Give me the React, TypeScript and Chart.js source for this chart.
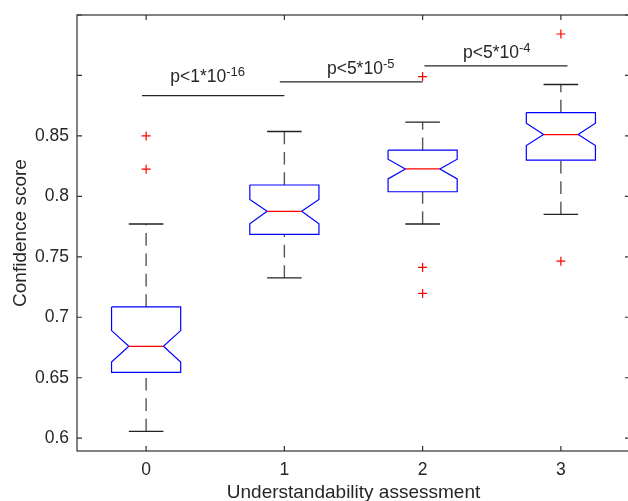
import React, { useEffect, useRef } from 'react';
import { Chart, registerables } from 'chart.js';

Chart.register(...registerables);

// ---- data ----
const categories = [0, 1, 2, 3];
const xTickLabels = ['0', '1', '2', '3'];
const yTickValues = [0.6, 0.65, 0.7, 0.75, 0.8, 0.85, 0.9, 0.95];
const yTickLabels = ['0.6', '0.65', '0.7', '0.75', '0.8', '0.85', '', ''];
const whiskerLow = [0.6056, 0.7326, 0.7771, 0.7851];
const q1 = [0.6544, 0.7685, 0.8038, 0.8299];
const notchLow = [0.663, 0.7773, 0.8144, 0.842];
const median = [0.676, 0.7876, 0.8227, 0.8511];
const notchHigh = [0.689, 0.7975, 0.8307, 0.8605];
const q3 = [0.7086, 0.8094, 0.8382, 0.8693];
const whiskerHigh = [0.7771, 0.8536, 0.8614, 0.8925];
const outliers = [[0.85, 0.8225], [], [0.8991, 0.7412, 0.7197], [0.9343, 0.7464]];
const bracketFrom = [-0.03, 0.967, 2.013];
const bracketTo = [1.0, 2.0, 3.048];
const bracketY = [0.8834, 0.8947, 0.908];
const pLabelBase = ['p<1*10', 'p<5*10', 'p<5*10'];
const pLabelExp = ['-16', '-5', '-4'];
const pLabelX = [0.445, 1.552, 2.536];
const pLabelY = [0.895, 0.9014, 0.9144];

// ---- style ----
const BOX_HALF = 0.25;
const NOTCH_HALF = 0.125;
const CAP_HALF = 0.125;
const FONT = '"Liberation Sans", Arial, Helvetica, sans-serif';
const TEXT_COLOR = '#262626';
const AXIS_COLOR = '#303030';

const lineDs = (data: { x: number; y: number }[], color: string, width: number, dash: number[] = []) => ({
  type: 'scatter' as const,
  data,
  showLine: true,
  borderColor: color,
  backgroundColor: color,
  borderWidth: width,
  borderDash: dash,
  pointRadius: 0,
  pointHoverRadius: 0,
  tension: 0,
  fill: false,
});

const framePlugin = {
  id: 'frame',
  afterDraw(chart: any) {
    const { ctx, chartArea, scales } = chart;
    const { left, right, top, bottom } = chartArea;
    const xs = scales.x;
    const ys = scales.y;
    ctx.save();
    ctx.strokeStyle = AXIS_COLOR;
    ctx.lineWidth = 1.2;
    ctx.strokeRect(left, top, right - left, bottom - top);
    const tl = 5;
    ctx.beginPath();
    xs.ticks.forEach((t: any) => {
      const px = xs.getPixelForValue(t.value);
      ctx.moveTo(px, bottom);
      ctx.lineTo(px, bottom - tl);
      ctx.moveTo(px, top);
      ctx.lineTo(px, top + tl);
    });
    ys.ticks.forEach((t: any) => {
      const py = ys.getPixelForValue(t.value);
      ctx.moveTo(left, py);
      ctx.lineTo(left + tl, py);
      ctx.moveTo(right, py);
      ctx.lineTo(right - tl, py);
    });
    ctx.stroke();
    ctx.restore();
  },
};

const pLabelPlugin = {
  id: 'plabels',
  afterDatasetsDraw(chart: any) {
    const { ctx, scales } = chart;
    const xs = scales.x;
    const ys = scales.y;
    ctx.save();
    ctx.fillStyle = TEXT_COLOR;
    ctx.textBaseline = 'alphabetic';
    ctx.textAlign = 'left';
    pLabelBase.forEach((base, i) => {
      const cx = xs.getPixelForValue(pLabelX[i]);
      const by = ys.getPixelForValue(pLabelY[i]);
      ctx.font = `17.5px ${FONT}`;
      const wb = ctx.measureText(base).width;
      ctx.font = `13px ${FONT}`;
      const we = ctx.measureText(pLabelExp[i]).width;
      const sx = cx - (wb + we) / 2;
      ctx.font = `17.5px ${FONT}`;
      ctx.fillText(base, sx, by);
      ctx.font = `13px ${FONT}`;
      ctx.fillText(pLabelExp[i], sx + wb, by - 6);
    });
    ctx.restore();
  },
};

export default function App() {
  const ref = useRef<HTMLCanvasElement>(null);

  useEffect(() => {
    if (!ref.current) return;
    const datasets: any[] = [];

    // medians (on top)
    categories.forEach((c, i) => {
      datasets.push(lineDs([{ x: c - NOTCH_HALF, y: median[i] }, { x: c + NOTCH_HALF, y: median[i] }], '#ff0000', 1.2));
    });
    // outliers
    const outPts: { x: number; y: number }[] = [];
    categories.forEach((c, i) => outliers[i].forEach((v) => outPts.push({ x: c, y: v })));
    datasets.push({
      type: 'scatter',
      data: outPts,
      showLine: false,
      pointStyle: 'cross',
      pointRadius: 4.5,
      pointHoverRadius: 4.5,
      borderColor: '#ff0000',
      backgroundColor: '#ff0000',
      pointBorderWidth: 1.2,
    });
    // notched boxes
    categories.forEach((c, i) => {
      const pts = [
        { x: c - BOX_HALF, y: q3[i] },
        { x: c + BOX_HALF, y: q3[i] },
        { x: c + BOX_HALF, y: notchHigh[i] },
        { x: c + NOTCH_HALF, y: median[i] },
        { x: c + BOX_HALF, y: notchLow[i] },
        { x: c + BOX_HALF, y: q1[i] },
        { x: c - BOX_HALF, y: q1[i] },
        { x: c - BOX_HALF, y: notchLow[i] },
        { x: c - NOTCH_HALF, y: median[i] },
        { x: c - BOX_HALF, y: notchHigh[i] },
        { x: c - BOX_HALF, y: q3[i] },
      ];
      datasets.push(lineDs(pts, '#0000ff', 1.2));
    });
    // caps
    categories.forEach((c, i) => {
      datasets.push(lineDs([{ x: c - CAP_HALF, y: whiskerHigh[i] }, { x: c + CAP_HALF, y: whiskerHigh[i] }], '#222222', 1.4));
      datasets.push(lineDs([{ x: c - CAP_HALF, y: whiskerLow[i] }, { x: c + CAP_HALF, y: whiskerLow[i] }], '#222222', 1.4));
    });
    // whiskers (dashed, drawn bottom-up)
    categories.forEach((c, i) => {
      datasets.push(lineDs([{ x: c, y: whiskerLow[i] }, { x: c, y: q1[i] }], '#555555', 1.4, [12.7, 7.7]));
      datasets.push(lineDs([{ x: c, y: q3[i] }, { x: c, y: whiskerHigh[i] }], '#555555', 1.4, [12.7, 7.7]));
    });
    // significance brackets
    bracketY.forEach((y, i) => {
      datasets.push(lineDs([{ x: bracketFrom[i], y }, { x: bracketTo[i], y }], '#262626', 1.2));
    });

    const chart = new Chart(ref.current, {
      type: 'scatter',
      data: { datasets },
      options: {
        responsive: false,
        animation: false,
        devicePixelRatio: 1,
        events: [],
        layout: { padding: { left: 0, top: 15, right: 10, bottom: 0 } },
        plugins: {
          legend: { display: false },
          tooltip: { enabled: false },
        },
        scales: {
          x: {
            type: 'linear',
            min: -0.5,
            max: 3.5,
            afterBuildTicks: (s: any) => {
              s.ticks = categories.map((v) => ({ value: v }));
            },
            afterFit: (s: any) => {
              s.height = 59;
              s.paddingLeft = 0;
              s.paddingRight = 0;
            },
            grid: { display: false, drawTicks: false },
            border: { display: false },
            ticks: {
              padding: 9,
              color: TEXT_COLOR,
              font: { family: FONT, size: 17.5 },
              maxRotation: 0,
              autoSkip: false,
              callback: (v: any) => {
                const idx = categories.indexOf(Number(v));
                return idx >= 0 ? xTickLabels[idx] : '';
              },
            },
            title: {
              display: true,
              text: 'Understandability assessment',
              color: TEXT_COLOR,
              font: { family: FONT, size: 19 },
              padding: { top: 0, bottom: 6 },
            },
          },
          y: {
            type: 'linear',
            min: 0.5894,
            max: 0.95,
            afterBuildTicks: (s: any) => {
              s.ticks = yTickValues.map((v) => ({ value: v }));
            },
            afterFit: (s: any) => {
              s.width = 77;
              s.paddingTop = 0;
              s.paddingBottom = 0;
            },
            grid: { display: false, drawTicks: false },
            border: { display: false },
            ticks: {
              padding: 8,
              color: TEXT_COLOR,
              font: { family: FONT, size: 17.5 },
              autoSkip: false,
              callback: (v: any) => {
                const idx = yTickValues.findIndex((t) => Math.abs(t - Number(v)) < 1e-9);
                return idx >= 0 ? yTickLabels[idx] : '';
              },
            },
            title: {
              display: true,
              text: 'Confidence score',
              color: TEXT_COLOR,
              font: { family: FONT, size: 19 },
              padding: { top: 9, bottom: 0 },
            },
          },
        },
      },
      plugins: [framePlugin, pLabelPlugin],
    } as any);
    return () => chart.destroy();
  }, []);

  return (
    <div
      style={{
        position: 'fixed',
        left: 0,
        top: 0,
        width: 628,
        height: 501,
        overflow: 'hidden',
        background: '#ffffff',
      }}
    >
      <canvas ref={ref} width={640} height={510} style={{ display: 'block' }} />
    </div>
  );
}
